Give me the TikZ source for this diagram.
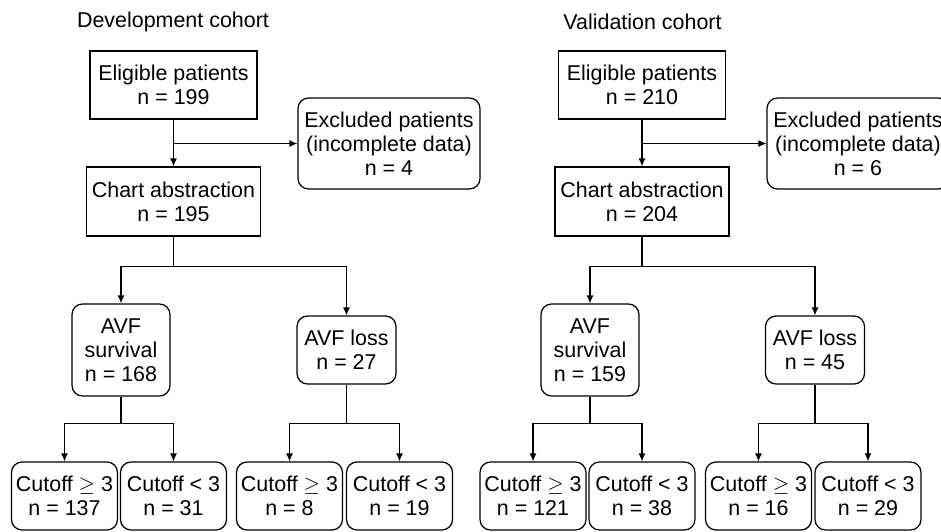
\documentclass[tikz,border=0pt]{standalone}
\usepackage{fontspec}
\setmainfont{Liberation Sans}
\usetikzlibrary{arrows.meta}

\begin{document}
\begin{tikzpicture}[
    font=\fontsize{12.2}{13.6}\selectfont,
    sqbox/.style={
        draw, line width=0.7pt, align=center, inner sep=2pt
    },
    rndbox/.style={
        sqbox, rounded corners=6pt
    },
    cutbox/.style={
        rndbox, minimum width=2.12cm, minimum height=1.36cm
    },
    arr/.style={-{Latex[length=1.6mm,width=1.4mm]}, line width=0.7pt}
]

\useasboundingbox (0,0) rectangle (18.82,-10.62);

% Development cohort
\node (devtitle) at (3.46,-0.44) {Development cohort};
\node[sqbox, minimum width=3.34cm, minimum height=1.36cm] (elig1) at (3.47,-1.70)
    {Eligible patients\\n = 199};
\node[rndbox, minimum width=3.64cm, minimum height=1.82cm] (excl1) at (7.78,-2.87)
    {Excluded patients\\(incomplete data)\\n = 4};
\node[sqbox, minimum width=3.48cm, minimum height=1.38cm] (chart1) at (3.47,-4.03)
    {Chart abstraction\\n = 195};
\node[rndbox, minimum width=1.96cm, minimum height=1.84cm] (surv1) at (2.42,-7.00)
    {AVF\\survival\\n = 168};
\node[rndbox, minimum width=1.98cm, minimum height=1.36cm] (loss1) at (6.93,-7.00)
    {AVF loss\\n = 27};
\node[cutbox] (hi1s) at (1.29,-9.92) {Cutoff $\geq$ 3\\n = 137};
\node[cutbox] (lo1s) at (3.47,-9.92) {Cutoff < 3\\n = 31};
\node[cutbox] (hi1l) at (5.79,-9.92) {Cutoff $\geq$ 3\\n = 8};
\node[cutbox] (lo1l) at (7.99,-9.92) {Cutoff < 3\\n = 19};

\draw[arr] (elig1) -- (chart1);
\draw[arr] (elig1.south |- excl1.west) -- (excl1.west);
\draw[arr] (chart1.south) -- ++(0,-0.6) -| (surv1.north);
\draw[arr] (chart1.south) -- ++(0,-0.6) -| (loss1.north);
\draw[arr] (surv1.south) -- ++(0,-0.54) -| (hi1s.north);
\draw[arr] (surv1.south) -- ++(0,-0.54) -| (lo1s.north);
\draw[arr] (loss1.south) -- ++(0,-0.78) -| (hi1l.north);
\draw[arr] (loss1.south) -- ++(0,-0.78) -| (lo1l.north);

% Validation cohort
\node (valtitle) at (12.85,-0.44) {Validation cohort};
\node[sqbox, minimum width=3.34cm, minimum height=1.36cm] (elig2) at (12.84,-1.70)
    {Eligible patients\\n = 210};
\node[rndbox, minimum width=3.64cm, minimum height=1.82cm] (excl2) at (17.16,-2.87)
    {Excluded patients\\(incomplete data)\\n = 6};
\node[sqbox, minimum width=3.48cm, minimum height=1.38cm] (chart2) at (12.84,-4.03)
    {Chart abstraction\\n = 204};
\node[rndbox, minimum width=1.96cm, minimum height=1.84cm] (surv2) at (11.80,-7.00)
    {AVF\\survival\\n = 159};
\node[rndbox, minimum width=1.98cm, minimum height=1.36cm] (loss2) at (16.30,-7.00)
    {AVF loss\\n = 45};
\node[cutbox] (hi2s) at (10.66,-9.92) {Cutoff $\geq$ 3\\n = 121};
\node[cutbox] (lo2s) at (12.84,-9.92) {Cutoff < 3\\n = 38};
\node[cutbox] (hi2l) at (15.17,-9.92) {Cutoff $\geq$ 3\\n = 16};
\node[cutbox] (lo2l) at (17.36,-9.92) {Cutoff < 3\\n = 29};

\draw[arr] (elig2) -- (chart2);
\draw[arr] (elig2.south |- excl2.west) -- (excl2.west);
\draw[arr] (chart2.south) -- ++(0,-0.6) -| (surv2.north);
\draw[arr] (chart2.south) -- ++(0,-0.6) -| (loss2.north);
\draw[arr] (surv2.south) -- ++(0,-0.54) -| (hi2s.north);
\draw[arr] (surv2.south) -- ++(0,-0.54) -| (lo2s.north);
\draw[arr] (loss2.south) -- ++(0,-0.78) -| (hi2l.north);
\draw[arr] (loss2.south) -- ++(0,-0.78) -| (lo2l.north);

\end{tikzpicture}
\end{document}
